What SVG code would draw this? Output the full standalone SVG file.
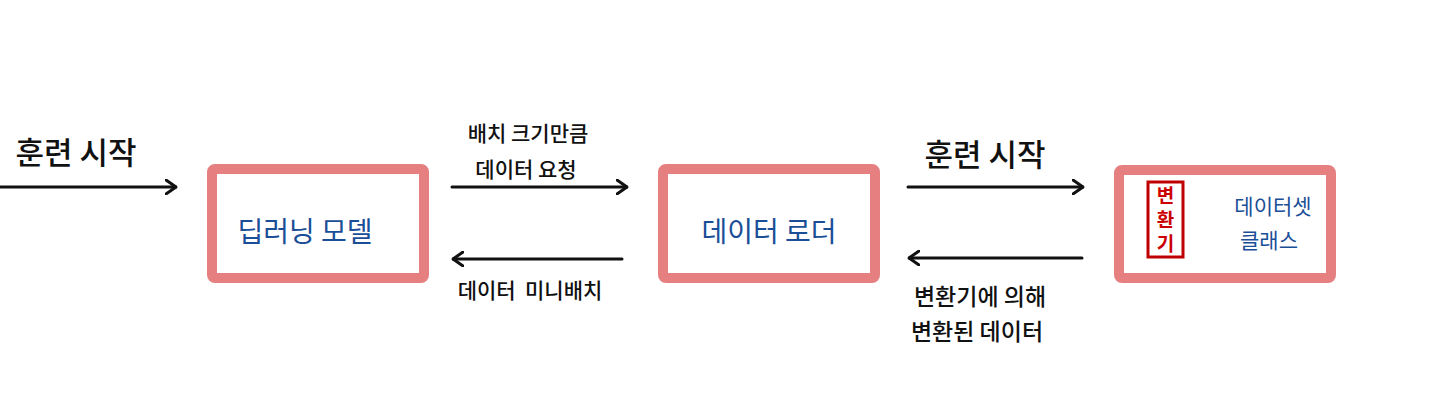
<svg xmlns="http://www.w3.org/2000/svg" width="1440" height="410" viewBox="0 0 1440 410">
<defs>
<style>
.box{fill:#fff;stroke:#E57F80;stroke-width:10}
.lbl{font-family:"Noto Sans CJK KR","Noto Sans",sans-serif;fill:#111;text-anchor:middle}
.in{font-family:"Noto Sans CJK KR","Noto Sans",sans-serif;fill:#1A4E97;text-anchor:middle}
.red{font-family:"Noto Sans CJK KR","Noto Sans",sans-serif;fill:#CC0000;text-anchor:middle;font-size:19px;font-weight:bold;writing-mode:vertical-rl;letter-spacing:5px}
.ln{stroke:#111;stroke-width:3;fill:none;stroke-linecap:round}
</style>
<marker id="ah" viewBox="0 0 12 16" refX="11" refY="8" markerWidth="12" markerHeight="16" markerUnits="userSpaceOnUse" orient="auto">
<path d="M1,1 L11,8 L1,15" fill="none" stroke="#111" stroke-width="3" stroke-linecap="round" stroke-linejoin="round"/>
</marker>
</defs>
<rect width="1440" height="410" fill="#fff"/>
<g id="connectors">
<line class="ln" x1="0" y1="187" x2="176" y2="187" marker-end="url(#ah)"/>
<text class="lbl" x="76" y="164" font-size="31" font-weight="500">훈련 시작</text>
<line class="ln" x1="452" y1="187" x2="627" y2="187" marker-end="url(#ah)"/>
<text class="lbl" x="528" y="141" font-size="21" font-weight="500">배치 크기만큼</text>
<text class="lbl" x="526" y="177" font-size="21" font-weight="500">데이터 요청</text>
<line class="ln" x1="622" y1="259" x2="453" y2="259" marker-end="url(#ah)"/>
<text class="lbl" x="530" y="298" font-size="21" font-weight="500" xml:space="preserve">데이터  미니배치</text>
<line class="ln" x1="908" y1="187" x2="1083" y2="187" marker-end="url(#ah)"/>
<text class="lbl" x="985" y="166" font-size="31" font-weight="500">훈련 시작</text>
<line class="ln" x1="1082" y1="258" x2="909" y2="258" marker-end="url(#ah)"/>
<text class="lbl" x="980" y="305" font-size="23" font-weight="500">변환기에 의해</text>
<text class="lbl" x="977" y="340" font-size="23" font-weight="500">변환된 데이터</text>
</g>
<g id="node-model">
<rect class="box" x="212" y="169" width="212" height="109" rx="3"/>
<text class="in" x="305" y="242" font-size="28">딥러닝 모델</text>
</g>
<g id="node-loader">
<rect class="box" x="663" y="169" width="212" height="109" rx="3"/>
<text class="in" x="769" y="242" font-size="28">데이터 로더</text>
</g>
<g id="node-dataset">
<rect class="box" x="1119" y="170" width="212" height="108" rx="3"/>
<g id="node-transform">
<rect x="1148" y="182" width="35" height="75" fill="none" stroke="#C00000" stroke-width="3"/>
<text class="red" x="1165.5" y="222">변환기</text>
</g>
<text class="in" x="1273" y="214" font-size="21">데이터셋</text>
<text class="in" x="1269" y="248" font-size="21">클래스</text>
</g>
</svg>
